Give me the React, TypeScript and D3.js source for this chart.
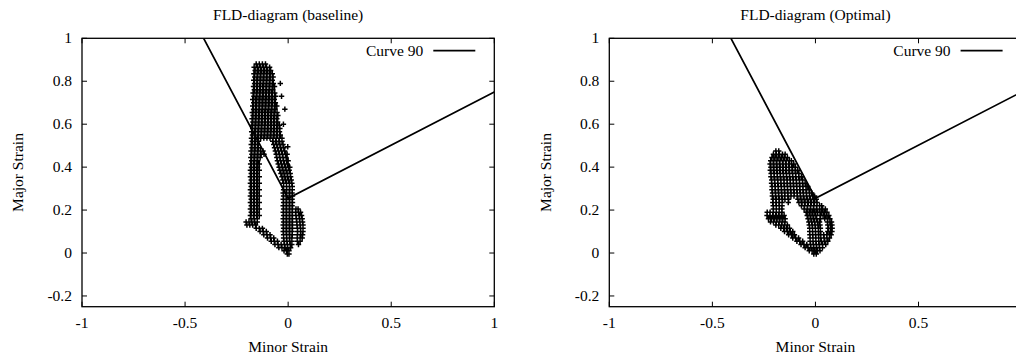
import React from "react";
import * as d3 from "d3";

// Axis setup shared by both diagrams
const xTicks = [-1, -0.5, 0, 0.5, 1];
const yTicks = [-0.2, 0, 0.2, 0.4, 0.6, 0.8, 1];
const xDomain: [number, number] = [-1, 1];
const yDomain: [number, number] = [-0.25, 1];

// Forming limit curve: [minor strain, major strain]
const curve90: [number, number][] = [
  [-0.41, 1.0],
  [0, 0.255],
  [1, 0.75],
];

// Element strains, grouped by major strain: [major, ...minor values]
const baselineRows: number[][] = [
  [0.88, -0.155, -0.14, -0.125, -0.11],
  [0.865, -0.165, -0.15, -0.135, -0.12, -0.105, -0.09],
  [0.85, -0.16, -0.145, -0.13, -0.115, -0.1, -0.085],
  [0.835, -0.166, -0.151, -0.136, -0.121, -0.106, -0.091, -0.077],
  [0.82, -0.162, -0.147, -0.132, -0.117, -0.102, -0.087, -0.073],
  [0.805, -0.167, -0.152, -0.137, -0.122, -0.107, -0.092, -0.077],
  [0.79, -0.163, -0.148, -0.133, -0.118, -0.103, -0.088, -0.072],
  [0.775, -0.168, -0.153, -0.138, -0.123, -0.108, -0.093, -0.078, -0.066],
  [0.76, -0.164, -0.149, -0.134, -0.119, -0.104, -0.089, -0.074],
  [0.745, -0.17, -0.155, -0.14, -0.125, -0.11, -0.095, -0.08, -0.065],
  [0.73, -0.166, -0.151, -0.136, -0.121, -0.106, -0.091, -0.076, -0.061],
  [0.715, -0.172, -0.157, -0.142, -0.127, -0.112, -0.097, -0.082, -0.067],
  [0.7, -0.167, -0.152, -0.137, -0.122, -0.107, -0.092, -0.077, -0.062],
  [0.685, -0.172, -0.157, -0.142, -0.127, -0.112, -0.097, -0.082, -0.067, -0.055],
  [0.67, -0.168, -0.153, -0.138, -0.123, -0.108, -0.093, -0.078, -0.063],
  [0.655, -0.174, -0.159, -0.144, -0.129, -0.114, -0.099, -0.084, -0.069, -0.054],
  [0.64, -0.17, -0.155, -0.14, -0.125, -0.11, -0.095, -0.08, -0.065, -0.05],
  [0.625, -0.175, -0.16, -0.145, -0.13, -0.115, -0.1, -0.085, -0.07, -0.055],
  [0.61, -0.171, -0.156, -0.141, -0.126, -0.111, -0.096, -0.081, -0.066, -0.051],
  [0.595, -0.176, -0.161, -0.146, -0.131, -0.116, -0.101, -0.086, -0.071, -0.056, -0.043],
  [0.58, -0.172, -0.157, -0.142, -0.127, -0.112, -0.097, -0.082, -0.067, -0.052, -0.04],
  [0.565, -0.177, -0.162, -0.147, -0.132, -0.117, -0.102, -0.087, -0.072, -0.057, -0.042],
  [0.55, -0.173, -0.158, -0.143, -0.128, -0.113, -0.098, -0.083, -0.068, -0.053, -0.038],
  [0.535, -0.178, -0.163, -0.148, -0.133, -0.118, -0.103, -0.088, -0.073, -0.058, -0.043, -0.03],
  [0.52, -0.174, -0.159, -0.144, -0.075, -0.06, -0.045, -0.03],
  [0.505, -0.179, -0.164, -0.149, -0.07, -0.055, -0.04, -0.025],
  [0.49, -0.175, -0.16, -0.145, -0.066, -0.051, -0.036, -0.021],
  [0.475, -0.18, -0.165, -0.15, -0.135, -0.122, -0.062, -0.047, -0.032, -0.017],
  [0.46, -0.176, -0.161, -0.146, -0.131, -0.117, -0.058, -0.043, -0.028, -0.013, -0.005],
  [0.445, -0.181, -0.166, -0.151, -0.136, -0.055, -0.04, -0.025, -0.01],
  [0.43, -0.177, -0.162, -0.147, -0.052, -0.037, -0.022, -0.007, 0.0],
  [0.415, -0.182, -0.167, -0.152, -0.14, -0.048, -0.033, -0.018, -0.004],
  [0.4, -0.178, -0.163, -0.148, -0.044, -0.029, -0.014, 0.001, 0.008],
  [0.385, -0.183, -0.168, -0.153, -0.14, -0.04, -0.025, -0.01, 0.005],
  [0.37, -0.179, -0.164, -0.149, -0.035, -0.02, -0.005, 0.01],
  [0.355, -0.183, -0.168, -0.153, -0.14, -0.03, -0.016, -0.002, 0.012],
  [0.34, -0.179, -0.164, -0.149, -0.026, -0.012, 0.002, 0.015],
  [0.325, -0.183, -0.168, -0.153, -0.14, -0.022, -0.008, 0.006, 0.018],
  [0.31, -0.179, -0.164, -0.149, -0.022, -0.008, 0.006, 0.02],
  [0.295, -0.183, -0.168, -0.153, -0.14, -0.022, -0.007, 0.008, 0.02],
  [0.28, -0.179, -0.164, -0.149, -0.024, -0.01, 0.005, 0.019],
  [0.265, -0.183, -0.168, -0.153, -0.14, -0.022, -0.007, 0.008, 0.021],
  [0.25, -0.179, -0.164, -0.149, -0.024, -0.01, 0.005, 0.019],
  [0.235, -0.183, -0.168, -0.153, -0.14, -0.022, -0.007, 0.008, 0.021],
  [0.22, -0.179, -0.164, -0.149, -0.024, -0.01, 0.005, 0.019],
  [0.205, -0.183, -0.168, -0.153, -0.14, -0.022, -0.007, 0.008, 0.021, 0.038, 0.048],
  [0.19, -0.179, -0.164, -0.149, -0.024, -0.01, 0.005, 0.019, 0.036, 0.05, 0.06],
  [0.175, -0.183, -0.168, -0.153, -0.14, -0.022, -0.007, 0.008, 0.021, 0.038, 0.053, 0.065],
  [0.16, -0.18, -0.165, -0.15, -0.024, -0.01, 0.005, 0.019, 0.04, 0.055, 0.068],
  [0.145, -0.204, -0.19, -0.176, -0.162, -0.15, -0.022, -0.007, 0.008, 0.021, 0.042, 0.057, 0.07],
  [0.13, -0.2, -0.186, -0.172, -0.158, -0.024, -0.01, 0.005, 0.019, 0.043, 0.058, 0.072],
  [0.115, -0.155, -0.14, -0.125, -0.022, -0.007, 0.008, 0.021, 0.045, 0.06, 0.072],
  [0.1, -0.136, -0.121, -0.106, -0.024, -0.01, 0.005, 0.019, 0.046, 0.061, 0.072],
  [0.085, -0.118, -0.103, -0.088, -0.022, -0.007, 0.008, 0.02, 0.045, 0.06, 0.07],
  [0.07, -0.1, -0.085, -0.07, -0.022, -0.008, 0.006, 0.018, 0.044, 0.058, 0.068],
  [0.055, -0.082, -0.067, -0.052, -0.02, -0.006, 0.008, 0.018, 0.045, 0.058],
  [0.04, -0.064, -0.049, -0.034, -0.018, -0.004, 0.01, 0.018, 0.05],
  [0.025, -0.045, -0.03, -0.015, -0.002, 0.012],
  [0.01, -0.02, -0.008, 0.004],
  [-0.005, -0.004, 0.004],
];

// Scattered elements beside the main baseline band: [minor, major]
const baselineStray: [number, number][] = [
  [-0.038, 0.79],
  [-0.032, 0.73],
  [-0.016, 0.67],
  [-0.023, 0.6],
  [-0.002, 0.495],
];

const optimalRows: number[][] = [
  [0.475, -0.192, -0.178],
  [0.46, -0.204, -0.19, -0.175, -0.16, -0.147],
  [0.445, -0.211, -0.196, -0.181, -0.166, -0.151, -0.136],
  [0.43, -0.217, -0.202, -0.187, -0.172, -0.157, -0.142, -0.127, -0.117],
  [0.415, -0.22, -0.205, -0.19, -0.175, -0.16, -0.145, -0.13, -0.115, -0.105],
  [0.4, -0.216, -0.201, -0.186, -0.171, -0.156, -0.141, -0.126, -0.111, -0.097],
  [0.385, -0.219, -0.204, -0.189, -0.174, -0.159, -0.144, -0.129, -0.114, -0.099, -0.086],
  [0.37, -0.215, -0.2, -0.185, -0.17, -0.155, -0.14, -0.125, -0.11, -0.095, -0.08],
  [0.355, -0.216, -0.201, -0.186, -0.171, -0.156, -0.141, -0.126, -0.111, -0.096, -0.081, -0.068],
  [0.34, -0.212, -0.197, -0.182, -0.167, -0.152, -0.137, -0.122, -0.107, -0.092, -0.077, -0.062],
  [0.325, -0.213, -0.198, -0.183, -0.168, -0.153, -0.138, -0.123, -0.108, -0.093, -0.078, -0.063, -0.05],
  [0.31, -0.21, -0.195, -0.18, -0.165, -0.15, -0.135, -0.12, -0.105, -0.09, -0.075, -0.06, -0.045, -0.037],
  [0.295, -0.211, -0.196, -0.181, -0.166, -0.151, -0.136, -0.121, -0.106, -0.091, -0.076, -0.061, -0.046, -0.031],
  [0.28, -0.208, -0.193, -0.178, -0.163, -0.148, -0.133, -0.118, -0.103, -0.088, -0.073, -0.058, -0.043, -0.028, -0.018],
  [0.265, -0.209, -0.194, -0.179, -0.164, -0.149, -0.134, -0.119, -0.104, -0.089, -0.074, -0.059, -0.044, -0.029, -0.014, -0.004],
  [0.25, -0.205, -0.19, -0.175, -0.16, -0.148, -0.13, -0.085, -0.07, -0.055, -0.04, -0.025, -0.01, 0.004],
  [0.235, -0.207, -0.192, -0.177, -0.162, -0.132, -0.08, -0.065, -0.05, -0.035, -0.02, -0.005, 0.008],
  [0.22, -0.205, -0.19, -0.175, -0.162, -0.068, -0.053, -0.038, -0.023, -0.008, 0.007, 0.02, 0.03],
  [0.205, -0.204, -0.19, -0.176, -0.163, -0.055, -0.04, -0.025, -0.01, 0.005, 0.02, 0.035, 0.048],
  [0.19, -0.234, -0.22, -0.205, -0.19, -0.176, -0.162, -0.045, -0.031, -0.017, -0.003, 0.011, 0.028, 0.043, 0.056],
  [0.175, -0.235, -0.221, -0.207, -0.193, -0.179, -0.165, -0.152, -0.04, -0.026, -0.012, 0.002, 0.022, 0.037, 0.052, 0.065],
  [0.16, -0.228, -0.214, -0.2, -0.186, -0.172, -0.158, -0.147, -0.036, -0.022, -0.008, 0.006, 0.025, 0.045, 0.06, 0.07],
  [0.145, -0.218, -0.204, -0.19, -0.176, -0.162, -0.148, -0.032, -0.018, -0.004, 0.01, 0.02, 0.058, 0.07, 0.078],
  [0.13, -0.192, -0.178, -0.164, -0.15, -0.136, -0.03, -0.016, -0.002, 0.012, 0.022, 0.06, 0.072, 0.08],
  [0.115, -0.168, -0.154, -0.14, -0.126, -0.028, -0.014, 0.0, 0.014, 0.024, 0.062, 0.074, 0.081],
  [0.1, -0.15, -0.136, -0.122, -0.11, -0.028, -0.014, 0.0, 0.014, 0.024, 0.06, 0.072, 0.08],
  [0.085, -0.13, -0.116, -0.102, -0.027, -0.013, 0.001, 0.015, 0.026, 0.04, 0.055, 0.068, 0.076],
  [0.07, -0.11, -0.096, -0.082, -0.026, -0.012, 0.002, 0.016, 0.026, 0.042, 0.056, 0.068],
  [0.055, -0.09, -0.076, -0.062, -0.026, -0.012, 0.002, 0.016, 0.028, 0.045, 0.06],
  [0.04, -0.07, -0.056, -0.042, -0.024, -0.01, 0.004, 0.018, 0.035, 0.05],
  [0.025, -0.05, -0.036, -0.022, -0.008, 0.006, 0.02, 0.034],
  [0.01, -0.03, -0.016, -0.002, 0.01, 0.022],
  [-0.005, -0.008, 0.004],
];

const optimalStray: [number, number][] = [];

const SVG_W = 1016;
const PANEL_W = 412.3;
const TOP = 38.3;
const BOTTOM = 306.7;
const FONT = "'Liberation Serif', 'Times New Roman', serif";
const FS = 15.5;

function toPoints(rows: number[][], stray: [number, number][]): [number, number][] {
  const pts: [number, number][] = [];
  rows.forEach(([major, ...minors]) => minors.forEach((m) => pts.push([m, major])));
  return pts.concat(stray);
}

type PanelProps = {
  id: string;
  left: number;
  title: string;
  rows: number[][];
  stray: [number, number][];
};

function Panel({ id, left, title, rows, stray }: PanelProps) {
  const x = d3.scaleLinear().domain(xDomain).range([left, left + PANEL_W]);
  const y = d3.scaleLinear().domain(yDomain).range([BOTTOM, TOP]);
  const right = left + PANEL_W;
  const cx = (left + right) / 2;

  const pts = toPoints(rows, stray);
  const r = 2.7;
  const plusPath = pts
    .map(([mx, my]) => {
      const px = x(mx);
      const py = y(my);
      return `M${(px - r).toFixed(2)},${py.toFixed(2)}h${2 * r}M${px.toFixed(2)},${(py - r).toFixed(2)}v${2 * r}`;
    })
    .join("");

  const line = d3
    .line<[number, number]>()
    .x((d) => x(d[0]))
    .y((d) => y(d[1]));

  const tickLen = 5;

  return (
    <g>
      <defs>
        <clipPath id={id}>
          <rect x={left} y={TOP} width={PANEL_W} height={BOTTOM - TOP} />
        </clipPath>
      </defs>
      <text x={cx} y={19.5} textAnchor="middle" fontSize={FS} fontFamily={FONT}>
        {title}
      </text>

      {/* ticks, mirrored on all four sides; labels past the canvas edge are skipped */}
      {xTicks.map((t) => (
        <g key={`x${t}`}>
          <line x1={x(t)} x2={x(t)} y1={BOTTOM} y2={BOTTOM - tickLen} stroke="#000" strokeWidth={1} />
          <line x1={x(t)} x2={x(t)} y1={TOP} y2={TOP + tickLen} stroke="#000" strokeWidth={1} />
          {x(t) + 4 < SVG_W && (
            <text x={x(t)} y={328} textAnchor="middle" fontSize={FS} fontFamily={FONT}>
              {String(t)}
            </text>
          )}
        </g>
      ))}
      {yTicks.map((t) => (
        <g key={`y${t}`}>
          <line x1={left} x2={left + tickLen} y1={y(t)} y2={y(t)} stroke="#000" strokeWidth={1} />
          <line x1={right} x2={right - tickLen} y1={y(t)} y2={y(t)} stroke="#000" strokeWidth={1} />
          <text x={left - 10} y={y(t) + 5} textAnchor="end" fontSize={FS} fontFamily={FONT}>
            {String(t)}
          </text>
        </g>
      ))}

      <g clipPath={`url(#${id})`}>
        <path d={plusPath} fill="none" stroke="#000" strokeWidth={1.5} />
        <path d={line(curve90) ?? ""} fill="none" stroke="#000" strokeWidth={1.7} />
      </g>

      <rect x={left} y={TOP} width={PANEL_W} height={BOTTOM - TOP} fill="none" stroke="#000" strokeWidth={1.3} />

      {/* legend */}
      <text x={right - 71} y={55.7} textAnchor="end" fontSize={FS} fontFamily={FONT}>
        Curve 90
      </text>
      <line x1={right - 61} x2={right - 19} y1={50.7} y2={50.7} stroke="#000" strokeWidth={1.7} />

      <text x={cx} y={352} textAnchor="middle" fontSize={FS} fontFamily={FONT}>
        Minor Strain
      </text>
      <text
        transform={`translate(${left - 58.7},${(TOP + BOTTOM) / 2}) rotate(-90)`}
        textAnchor="middle"
        fontSize={FS}
        fontFamily={FONT}
      >
        Major Strain
      </text>
    </g>
  );
}

export default function App() {
  return (
    <svg
      width={SVG_W}
      height={360}
      style={{ position: "absolute", left: 0, top: 0, background: "#fff" }}
    >
      <rect width={SVG_W} height={360} fill="#fff" />
      <Panel id="clip-baseline" left={82} title="FLD-diagram (baseline)" rows={baselineRows} stray={baselineStray} />
      <Panel id="clip-optimal" left={609.3} title="FLD-diagram (Optimal)" rows={optimalRows} stray={optimalStray} />
    </svg>
  );
}
